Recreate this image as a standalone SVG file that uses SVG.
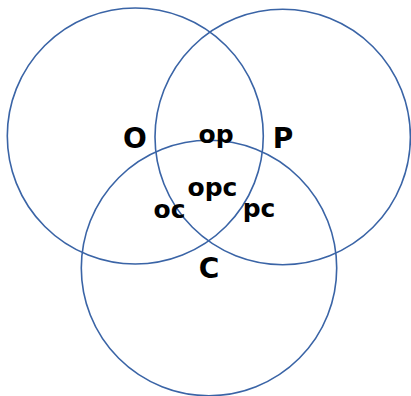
<svg xmlns="http://www.w3.org/2000/svg" width="411" height="396" viewBox="0 0 411 396">
<style>
.c{fill:none;stroke:#3a64a6;stroke-width:1.6}
.big{font-family:"DejaVu Sans",sans-serif;font-weight:bold;font-size:28px;text-anchor:middle;fill:#000}
.sm{font-family:"DejaVu Sans",sans-serif;font-weight:bold;font-size:25px;text-anchor:middle;fill:#000}
</style>
<rect width="411" height="396" fill="#fff"/>
<g id="O"><circle class="c" cx="135.3" cy="136" r="128"/><text class="big" x="135" y="148">O</text></g>
<g id="P"><circle class="c" cx="282.7" cy="137" r="127.7"/><text class="big" x="283" y="148">P</text></g>
<g id="C"><circle class="c" cx="209" cy="268" r="127.7"/><text class="big" x="209" y="278">C</text></g>
<g id="labels">
<text class="sm" x="216" y="143">op</text>
<text class="sm" x="212.5" y="196">opc</text>
<text class="sm" x="169.5" y="218">oc</text>
<text class="sm" x="259" y="217">pc</text>
</g>
</svg>
